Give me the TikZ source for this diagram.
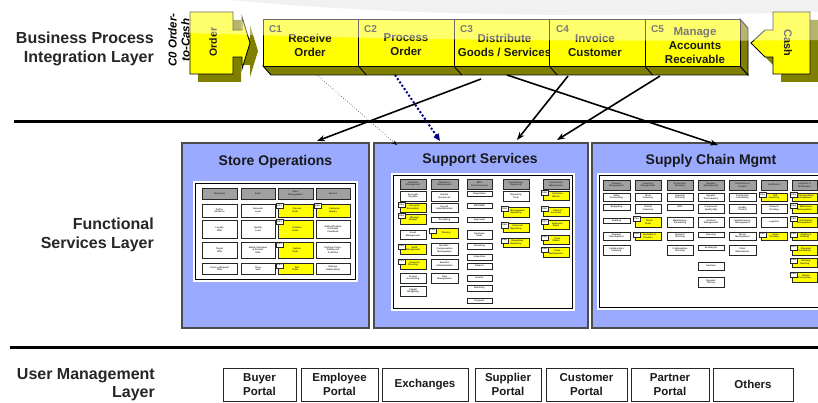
\documentclass[tikz,border=0pt]{standalone}
\usepackage{fontspec}
\setmainfont{Liberation Sans}
\usetikzlibrary{arrows.meta,shadows}
\definecolor{yel}{HTML}{FFFF00}
\definecolor{olv}{HTML}{808000}
\definecolor{panelblue}{HTML}{99AAFF}
\definecolor{navyd}{HTML}{000080}
\definecolor{hdrgray}{HTML}{A0A0A0}
\definecolor{txt}{HTML}{1A1A1A}
\newcounter{mbc}
\newcommand\mbw[5]{\stepcounter{mbc}\node[minib, minimum width={#3pt-#1pt}, minimum height={#4pt-#2pt}] (mb\arabic{mbc}) at ({(#1+#3)/2},{(#2+#4)/2}) {#5};}
\newcommand\mbh[5]{\stepcounter{mbc}\node[minib, fill=hdrgray, minimum width={#3pt-#1pt}, minimum height={#4pt-#2pt}] (mb\arabic{mbc}) at ({(#1+#3)/2},{(#2+#4)/2}) {#5};}
\newcommand\mby[6]{\stepcounter{mbc}\node[minib, fill=yel, minimum width={#3pt-#1pt}, minimum height={#4pt-#2pt}] (mb\arabic{mbc}) at ({(#1+#3)/2},{(#2+#4)/2}) {\hspace*{3pt}#6};%
\node[tagb, anchor=north west] (tg\arabic{mbc}) at ({#1-2},{#2-0.5}) {#5};}
\begin{document}
\begin{tikzpicture}[x=1pt,y=-1pt,
  minib/.style={draw=black!85, line width=0.35pt, fill=white, inner sep=0pt, text=black!80,
     font=\fontsize{2.3}{2.6}\selectfont\bfseries, align=center,
     drop shadow={shadow xshift=0.8pt, shadow yshift=-0.8pt, fill=black, opacity=0.45}},
  tagb/.style={draw=black!85, line width=0.3pt, fill=white, inner sep=0pt, minimum width=7pt,
     minimum height=5pt, font=\fontsize{2.1}{2.3}\selectfont\bfseries},
  layerlbl/.style={font=\fontsize{16}{19}\selectfont\bfseries, text=black!85, align=right, anchor=east, inner sep=0pt},
  pbox/.style={draw=black, line width=0.9pt, fill=yel, minimum width=95.4pt, minimum height=47pt, anchor=north west, inner sep=0pt},
  clbl/.style={font=\fontsize{10}{12}\selectfont\bfseries, text=txt, anchor=west, inner sep=0pt},
  ptxt/.style={font=\fontsize{11.5}{14}\selectfont\bfseries, text=txt, align=center, inner sep=0pt},
  panel/.style={draw=black!70, line width=1.2pt, fill=panelblue},
  ptitle/.style={font=\fontsize{14}{16}\selectfont\bfseries, text=black!90, inner sep=0pt},
  portal/.style={draw=black!85, line width=0.9pt, fill=white, inner sep=0pt, align=center,
     font=\fontsize{11.5}{13.5}\selectfont\bfseries, text=txt,
     drop shadow={shadow xshift=1.2pt, shadow yshift=-1.2pt, fill=black, opacity=0.35}},
  conn/.style={line width=1.6pt, -{Stealth[length=8pt,width=6pt]}},
  sep/.style={line width=3pt, black}
]
\clip (0,0) rectangle (818,403);
\fill[white] (0,0) rectangle (818,403);
% background swoosh
\fill[black!9] (230,0) .. controls (400,16) and (600,18) .. (818,12) -- (818,0) -- cycle;

% separators
\draw[sep] (14,122) -- (818,122);
\draw[sep] (10,347) -- (818,347);

% layer labels
\node[layerlbl] (lbl1) at (154,48.5) {Business Process\\Integration Layer};
\node[layerlbl] (lbl2) at (154,235) {Functional\\Services Layer};
\node[layerlbl, font=\fontsize{16}{18}\selectfont\bfseries] (lbl3) at (155,385) {User Management\\Layer};

% Order shape
\fill[olv] (198,20) -- (241,20) -- (241,38) -- (250,38) -- (250,25) -- (258,51) -- (250,77) -- (250,65) -- (241,65) -- (241,82) -- (198,82) -- cycle;
\draw[fill=yel, line width=0.9pt] (190,12) -- (233,12) -- (233,30) -- (242,30) -- (242,17) -- (250,43) -- (242,69) -- (242,57) -- (233,57) -- (233,74) -- (190,74) -- cycle;
\node[rotate=90, font=\fontsize{10.5}{12}\selectfont\bfseries, text=txt, inner sep=0pt] (order) at (213,42) {Order};
\node[rotate=90, font=\fontsize{11.5}{13}\selectfont\bfseries\itshape, text=black, align=center, inner sep=0pt] (c0) at (179,40) {C0 Order-\\to-Cash};

% 3D faces of process chain
\draw[fill=olv, line width=0.9pt] (263,66) -- (740,66) -- (748,75) -- (271,75) -- cycle;
\draw[fill=olv, line width=0.9pt] (740,19) -- (748,28) -- (748,75) -- (740,66) -- cycle;
\foreach \xx in {358.4,453.8,549.2,644.6} \draw[line width=0.9pt] (\xx,66) -- (\xx+8,75);

% process boxes
\node[pbox] (C1) at (263,19) {};
\node[clbl] (C1l) at (269,29) {C1};
\node[ptxt] (C1t) at (310,45) {Receive\\Order};
\node[pbox] (C2) at (358.4,19) {};
\node[clbl] (C2l) at (364,29) {C2};
\node[ptxt] (C2t) at (406,45) {Process\\Order};
\node[pbox] (C3) at (453.8,19) {};
\node[clbl] (C3l) at (460,29) {C3};
\node[ptxt] (C3t) at (504.5,45) {Distribute\\Goods / Services};
\node[pbox] (C4) at (549.2,19) {};
\node[clbl] (C4l) at (556,29) {C4};
\node[ptxt] (C4t) at (595,45) {Invoice\\Customer};
\node[pbox] (C5) at (644.6,19) {};
\node[clbl] (C5l) at (651,29) {C5};
\node[ptxt] (C5t) at (695,46) {Manage\\Accounts\\Receivable};

% Cash shape
\fill[olv] (818,20) -- (781,20) -- (781,38) -- (773,38) -- (759,51) -- (773,65) -- (781,65) -- (781,82) -- (818,82) -- cycle;
\draw[fill=yel, line width=0.9pt] (810,12) -- (773,12) -- (773,30) -- (765,30) -- (751,43) -- (765,57) -- (773,57) -- (773,74) -- (810,74) -- cycle;
\node[rotate=-90, font=\fontsize{11}{12}\selectfont\bfseries, text=txt, inner sep=0pt] (cash) at (788,43) {Cash};

% glare
\fill[white, opacity=0.42] (189,0) -- (189,33) .. controls (400,40) and (600,42) .. (818,40) -- (818,0) -- cycle;

% panels
\draw[panel] (182,143) rectangle (369,328);
\draw[panel] (374,143) rectangle (588,328);
\draw[panel] (592,143) rectangle (830,328);
\node[ptitle] (t1) at (275.5,162) {Store Operations};
\node[ptitle] (t2) at (480,160) {Support Services};
\node[ptitle] (t3) at (711,161) {Supply Chain Mgmt};

% inner frames
\fill[white] (193,181) rectangle (358,282);
\draw[line width=1.3pt] (195.5,183.5) rectangle (355.5,279.5);
\fill[white] (391,173) rectangle (575,311);
\draw[line width=1.3pt] (393.5,175.5) rectangle (572.5,308.5);
\fill[white] (597,173) rectangle (830,310);
\draw[line width=1.3pt] (599.5,175.5) rectangle (830,307.5);

% Store Operations mini boxes
\mbh{202}{188}{237}{199}{Marketing}
\mbh{241}{188}{275}{199}{Sales}
\mbh{278}{188}{313}{199}{Store\\Management}
\mbh{316}{188}{350}{199}{Service}
\mbw{202}{204}{237}{217}{Define\\Audience}
\mbw{241}{204}{275}{217}{Generate\\Lead}
\mby{278}{204}{313}{217}{C1.1}{Process\\Order}
\mby{316}{204}{350}{217}{C4.3}{Customer\\Inquiry}
\mbw{202}{220}{237}{238}{Loyalty\\Offer}
\mbw{241}{220}{275}{238}{Qualify\\Lead}
\mby{278}{220}{313}{238}{C2.1}{Position\\Order}
\mbw{316}{220}{350}{238}{Gather/Analyze\\Customer\\Feedback}
\mbw{202}{242}{237}{258}{Target\\Offer}
\mbw{241}{242}{275}{258}{Match Customer\\\& Product\\Data}
\mby{278}{242}{313}{258}{C3.1}{Deliver\\Order}
\mbw{316}{242}{350}{258}{Perform Cross-\\Sell/Up-sell\\Activities}
\mbw{202}{263}{237}{274}{Cross-sell/Upsell\\Offer}
\mbw{241}{263}{275}{274}{Close\\Sale}
\mby{278}{263}{313}{274}{C4.1}{Bill\\Order}
\mbw{316}{263}{350}{274}{Manage\\Relationship}

% Support Services mini boxes
\mbh{400}{179}{426}{189}{Financial\\Management}
\mbw{400}{191}{426}{201}{Accounts\\Payable}
\mby{400}{203}{426}{212}{C5.1}{Accounts\\Receivable}
\mby{400}{214}{426}{224}{C4.2}{Manage\\Budget}
\mbw{400}{230}{426}{239}{Asset\\Management}
\mby{400}{244}{426}{254}{C5.2}{Audit\\Management}
\mby{400}{259}{426}{269}{C5.3}{Financial\\Planning}
\mbw{400}{273}{426}{283}{Project\\Accounting}
\mbw{400}{286}{426}{296}{Capital\\Budgeting}
\mbh{431}{179}{458}{189}{Workforce\\Management}
\mbw{431}{191}{458}{201}{Human\\Resources}
\mbw{431}{203}{458}{212}{Payroll\\Administration}
\mbw{431}{217}{458}{222}{Recruiting}
\mby{431}{228}{458}{238}{C2.4}{Training}
\mbw{431}{243}{458}{255}{Benefits /\\Compensation\\Management}
\mbw{431}{259}{458}{269}{Benefits\\Administration}
\mbw{431}{273}{458}{283}{Time\\Management}
\mbh{467}{179}{492}{189}{MRO\\E-Procurement}
\mbw{467}{191}{492}{196}{Requisition}
\mbw{467}{203}{492}{208}{MRO/MRP}
\mbw{467}{217}{492}{222}{Approvals}
\mbw{467}{230}{492}{239}{Purchase\\Order}
\mbw{467}{243}{492}{249}{Receiving}
\mbw{467}{254}{492}{260}{Inspection}
\mbw{467}{263}{492}{269}{Returns}
\mbw{467}{275}{492}{281}{Invoice}
\mbw{467}{285}{492}{291}{Matching}
\mbw{467}{298}{492}{303}{Payment}
\mbh{503}{179}{529}{189}{Data Mining /\\Reporting}
\mbw{503}{191}{529}{201}{Reporting\\Tools}
\mby{503}{207}{529}{217}{C5.4}{Management\\Reporting}
\mby{503}{223}{529}{232}{C5.5}{Financial\\Reporting}
\mby{503}{238}{529}{247}{C5.6}{Regulatory\\Reporting}
\mbh{543}{179}{569}{189}{Vendor Data\\Maintenance}
\mby{543}{191}{569}{200}{C2.5}{Customer\\Master}
\mby{543}{207}{569}{216}{C2.6}{Chart of\\Accounts}
\mby{543}{220}{569}{229}{C2.7}{Business\\Rules}
\mby{543}{235}{569}{244}{C2.8}{Price\\Tables}
\mby{543}{247}{569}{257}{C2.9}{Price\\Maintenance}

% Supply Chain mini boxes
\mbh{603}{180}{630}{190}{Demand\\Management}
\mbw{603}{193}{630}{201}{Sales\\Forecasting}
\mbw{603}{204}{630}{210}{Budgeting}
\mbw{603}{218}{630}{223}{Auditing}
\mbw{603}{232}{630}{240}{Demand\\Development}
\mbw{603}{245}{630}{255}{Collaborative\\Planning}
\mbh{635}{180}{661}{190}{Inventory\\Management}
\mbw{635}{193}{661}{201}{Store\\Inventory}
\mbw{635}{204}{661}{213}{Central\\Inventory}
\mby{635}{217}{661}{227}{C2.2}{Check\\Order}
\mby{635}{232}{661}{240}{C2.3}{Available to\\Promise}
\mbh{667}{180}{693}{190}{Production\\Planning}
\mbw{667}{193}{693}{201}{Capacity\\Planning}
\mbw{667}{204}{693}{210}{ERP}
\mbw{667}{217}{693}{227}{Maintenance\\Scheduling}
\mbw{667}{232}{693}{240}{Demand\\Planning}
\mbw{667}{245}{693}{255}{Collaborative\\Planning}
\mbh{698}{180}{724}{190}{Supplier\\Management}
\mbw{698}{193}{724}{201}{Supplier\\Performance}
\mbw{698}{204}{724}{213}{Component\\Quality Mgt}
\mbw{698}{217}{724}{227}{Contract\\Management}
\mbw{698}{232}{724}{237}{Sourcing}
\mbw{698}{245}{724}{250}{Exchanges}
\mbw{698}{262}{724}{270}{Auctions}
\mbw{698}{277}{724}{287}{Dynamic\\Pricing}
\mbh{729}{180}{756}{190}{Production \&\\Control}
\mbw{729}{193}{756}{201}{Production\\Scheduling}
\mbw{729}{204}{756}{213}{Quality\\Control}
\mbw{729}{217}{756}{227}{Manufacturing\\Management}
\mbw{729}{232}{756}{240}{Waste\\Management}
\mbw{729}{245}{756}{255}{Plant\\Maintenance}
\mbh{761}{180}{787}{190}{Fulfillment}
\mby{761}{193}{787}{201}{C3.1}{Bill\\Inventory}
\mbw{761}{204}{787}{213}{Demand\\Tracking}
\mbw{761}{217}{787}{227}{Logistics}
\mby{761}{232}{787}{240}{C3.2}{Order\\Tracking}
\mbh{792}{180}{817}{190}{Logistics \&\\Distribution}
\mby{792}{193}{817}{201}{C3.3}{Transportation\\Management}
\mby{792}{204}{817}{213}{C3.4}{Warehouse\\Management}
\mby{792}{217}{817}{227}{C3.5}{Distribution\\Management}
\mby{792}{232}{817}{240}{C3.6}{Picking \&\\Packing}
\mby{792}{245}{817}{255}{C3.7}{Shipment\\Scheduling}
\mby{792}{258}{817}{267}{C3.8}{Delivery\\Tracking}
\mby{792}{272}{817}{282}{C3.9}{Return\\Processing}

% connectors
\coordinate (a1) at (317,75);   \coordinate (b1) at (397,145);
\coordinate (a2) at (395,75);   \coordinate (b2) at (440,141);
\coordinate (a3) at (481,79);   \coordinate (b3) at (317,141);
\coordinate (a4) at (507,75);   \coordinate (b4) at (718,145);
\coordinate (a5) at (568,76);   \coordinate (b5) at (517,140);
\coordinate (a6) at (660,76);   \coordinate (b6) at (557,140);
\draw[line width=0.5pt, dotted, -{Stealth[length=5pt,width=4pt]}] (a1) -- (b1);
\draw[line width=2pt, navyd, dotted, -{Triangle[length=7pt,width=6pt]}] (a2) -- (b2);
\draw[conn] (a3) -- (b3);
\draw[conn] (a4) -- (b4);
\draw[conn] (a5) -- (b5);
\draw[conn] (a6) -- (b6);

% portals
\node[portal, minimum width=73pt, minimum height=33pt] (p1) at (259.5,384.5) {Buyer\\Portal};
\node[portal, minimum width=77pt, minimum height=33pt] (p2) at (339.5,384.5) {Employee\\Portal};
\node[portal, minimum width=86pt, minimum height=33pt] (p3) at (425,384.5) {Exchanges};
\node[portal, minimum width=66pt, minimum height=33pt] (p4) at (508,384.5) {Supplier\\Portal};
\node[portal, minimum width=81pt, minimum height=33pt] (p5) at (586.5,384.5) {Customer\\Portal};
\node[portal, minimum width=78pt, minimum height=33pt] (p6) at (670,384.5) {Partner\\Portal};
\node[portal, minimum width=80pt, minimum height=33pt] (p7) at (753,384.5) {Others};
\end{tikzpicture}
\end{document}
